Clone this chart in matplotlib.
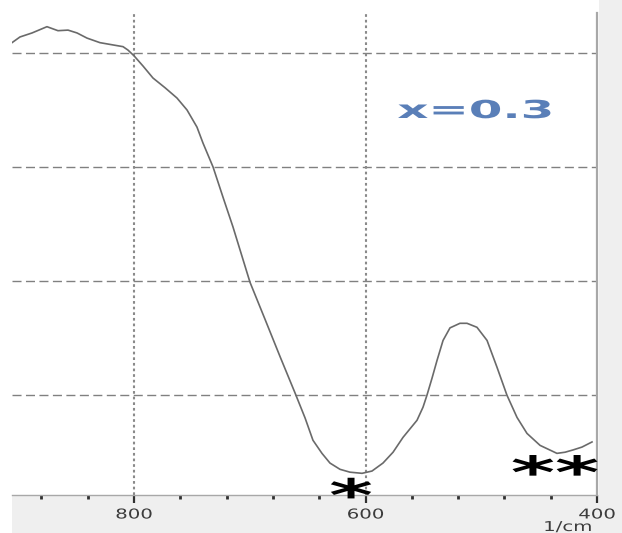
import numpy as np
import matplotlib
matplotlib.use('Agg')
import matplotlib.pyplot as plt
from matplotlib import patheffects
from matplotlib.patches import Rectangle
from matplotlib.path import Path
from matplotlib.transforms import Affine2D

# FTIR trace, wavenumber (1/cm) vs transmittance (arb.)
wavenumber = [905.4, 898.5, 888.1, 875.2, 865.7, 857.0, 849.2, 840.6, 829.4, 818.1,
              809.5, 805.2, 800.0, 792.2, 783.6, 773.2, 762.9, 754.2, 745.6, 740.4,
              731.7, 723.1, 714.5, 699.8, 686.8, 673.9, 660.9, 652.2, 645.4, 637.6,
              630.7, 622.0, 613.4, 603.0, 594.4, 584.9, 576.2, 567.6, 555.5, 550.3,
              546.9, 542.5, 538.2, 533.0, 527.0, 518.4, 512.3, 503.7, 495.0, 486.4,
              477.8, 469.1, 460.5, 449.2, 434.6, 427.6, 420.7, 413.0, 404.3]
transmittance = [81.8, 82.8, 83.5, 84.6, 83.9, 84.0, 83.5, 82.6, 81.8, 81.4,
                 81.1, 80.5, 79.5, 77.7, 75.6, 73.9, 72.1, 70.0, 67.0, 64.2,
                 60.0, 54.7, 49.5, 39.8, 33.3, 26.8, 20.4, 16.0, 12.1, 9.8,
                 8.1, 7.0, 6.5, 6.3, 6.7, 8.1, 10.0, 12.6, 15.6, 17.9,
                 20.0, 23.0, 26.1, 29.6, 31.8, 32.6, 32.6, 31.9, 29.6, 24.9,
                 20.0, 16.1, 13.3, 11.2, 9.8, 10.0, 10.4, 10.9, 11.8]

major_ticks = [800, 600, 400]
major_labels = ['800', '600', '400']
minor_ticks = [880, 840, 760, 720, 680, 640, 560, 520, 480, 440]
grid_levels = [20, 40, 60, 80]
band_lines = [800, 600]


class Stretch(patheffects.AbstractPathEffect):
    """Scale glyphs about the centre of their ink."""
    def __init__(self, sx, sy=1.0):
        super().__init__()
        self.sx = sx
        self.sy = sy

    def draw_path(self, renderer, gc, tpath, affine, rgbFace=None):
        verts = tpath.vertices
        if tpath.codes is not None:
            verts = verts[tpath.codes != Path.CLOSEPOLY]
        pts = affine.transform(verts)
        cx = (pts[:, 0].min() + pts[:, 0].max()) / 2
        cy = (pts[:, 1].min() + pts[:, 1].max()) / 2
        widen = (Affine2D().translate(-cx, -cy)
                 .scale(self.sx, self.sy).translate(cx, cy))
        renderer.draw_path(gc, tpath, affine + widen, rgbFace)


W, H = 622, 533
fig = plt.figure(figsize=(W / 100, H / 100), dpi=100, facecolor='white')

# light grey frame below and right of the plot
fig.add_artist(Rectangle((12 / W, 0), (W - 12) / W, 37 / H, transform=fig.transFigure,
                         facecolor='#efefef', edgecolor='none', zorder=-5))
fig.add_artist(Rectangle((599 / W, 0), 23 / W, 1, transform=fig.transFigure,
                         facecolor='#efefef', edgecolor='none', zorder=-5))

ax = fig.add_axes([12 / W, (H - 495) / H, 585 / W, 482 / H])
ax.set_facecolor('white')

ax.plot(wavenumber, transmittance, color='#6a6a6a', lw=1.2, zorder=3)

for g in grid_levels:
    ax.axhline(g, color='#808080', lw=1.0, dashes=(6.5, 3.2), zorder=1)
for b in band_lines:
    ax.axvline(b, color='#8a8a8a', lw=1.5, dashes=(1.3, 1.4), zorder=1)

ax.set_xlim(905.4, 400)
ax.set_ylim(2.5, 87.0)

for side in ['left', 'top']:
    ax.spines[side].set_visible(False)
ax.spines['bottom'].set_color('#a8a8a8')
ax.spines['bottom'].set_linewidth(1.0)
ax.spines['right'].set_color('#a8a8a8')
ax.spines['right'].set_linewidth(1.6)

ax.set_yticks([])
ax.set_xticks(major_ticks)
ax.set_xticklabels(major_labels)
ax.set_xticks(minor_ticks, minor=True)
ax.tick_params(axis='x', which='major', direction='out', length=5.5, width=1.6,
               color='#303030', pad=3.5, labelsize=9.8, labelcolor='#3c3c3c')
ax.tick_params(axis='x', which='minor', direction='out', length=3.2, width=2.0,
               color='#303030')
plt.setp(ax.get_xticklabels(), path_effects=[Stretch(1.45)])

fig.text(568 / W, (H - 531) / H, '1/cm', ha='center', va='baseline',
         fontsize=9.8, color='#3c3c3c', path_effects=[Stretch(1.45)])

# sample label
fig.text(475 / W, (H - 118) / H, 'x=0.3', ha='center', va='baseline',
         fontsize=17.8, fontweight='bold', color='#5a7fb8',
         path_effects=[Stretch(1.95)])

# band markers
fig.text(351 / W, (H - 498) / H, '*', ha='center', va='baseline',
         fontsize=14, fontweight='bold', color='black',
         path_effects=[Stretch(4.3, 2.29)])
fig.text(555 / W, (H - 488) / H, '**', ha='center', va='baseline',
         fontsize=32, fontweight='bold', color='black', path_effects=[Stretch(1.9)])

plt.savefig('out.png', dpi=100)
